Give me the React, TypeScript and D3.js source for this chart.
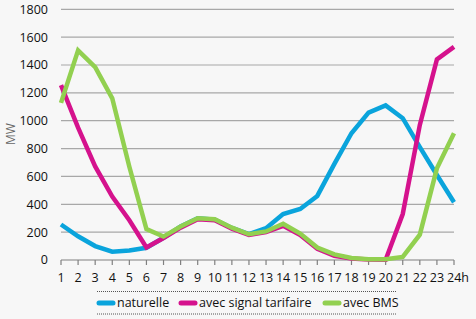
import React from "react";
import * as d3 from "d3";

const hours = Array.from({ length: 24 }, (_, i) => i + 1);
const hourLabels = ["1","2","3","4","5","6","7","8","9","10","11","12","13","14","15","16","17","18","19","20","21","22","23","24h"];
const yTicks = [0, 200, 400, 600, 800, 1000, 1200, 1400, 1600, 1800];

const naturelle = [255, 170, 100, 60, 68, 88, 160, 240, 300, 290, 230, 185, 228, 330, 366, 460, 690, 910, 1058, 1110, 1018, 810, 610, 415];
const signalTarifaire = [1255, 950, 672, 455, 285, 90, 158, 232, 292, 285, 225, 180, 200, 245, 180, 80, 30, 10, 4, 2, 330, 970, 1440, 1530];
const avecBMS = [1128, 1505, 1385, 1160, 670, 222, 168, 240, 300, 292, 232, 185, 205, 260, 190, 90, 40, 15, 5, 5, 22, 182, 658, 910];

const seriesNames = ["naturelle", "avec signal tarifaire", "avec BMS"];
const seriesColors = ["#0aa4dc", "#d5128d", "#92d050"];
const seriesData = [naturelle, signalTarifaire, avecBMS];

const W = 476, H = 319;
const FONT = "'Open Sans', sans-serif";

export default function App() {
  const x = d3.scalePoint<number>().domain(hours).range([61, 454]);
  const y = d3.scaleLinear().domain([0, 1800]).range([260, 9.3]);
  const line = d3.line<number>().x((_, i) => x(hours[i])!).y((v) => y(v));

  const legendItems = [
    { sx: 97, tx: 117 },
    { sx: 179, tx: 199 },
    { sx: 323, tx: 343 },
  ];

  return (
    <svg width={W} height={H} style={{ position: "absolute", left: 0, top: 0, background: "#f7f7f7" }} fontFamily={FONT}>
      <rect x={0} y={0} width={W} height={H} fill="#f7f7f7" />
      {yTicks.filter((t) => t > 0).map((t) => (
        <line key={t} x1={61} x2={454} y1={y(t)} y2={y(t)} stroke="#a8a8a8" strokeWidth={1.2} />
      ))}
      <line x1={61} x2={454} y1={y(0)} y2={y(0)} stroke="#808080" strokeWidth={1.2} />
      {hours.map((h) => (
        <line key={h} x1={x(h)} x2={x(h)} y1={y(0)} y2={y(0) + 5} stroke="#808080" strokeWidth={1.2} />
      ))}
      {yTicks.map((t) => (
        <text key={t} x={48} y={y(t)} dy="0.35em" textAnchor="end" fontSize={12.5} fill="#111">{t}</text>
      ))}
      {hours.map((h, i) => (
        <text key={h} x={x(h)! + (i === 23 ? 4 : 0)} y={282} textAnchor="middle" fontSize={12.5} fill="#111">{hourLabels[i]}</text>
      ))}
      <text transform="translate(15,134) rotate(-90)" textAnchor="middle" fontSize={12} fill="#666">MW</text>
      {seriesData.map((d, i) => (
        <path key={i} d={line(d) || ""} fill="none" stroke={seriesColors[i]} strokeWidth={4.5} strokeLinejoin="miter" />
      ))}
      <line x1={97} x2={397} y1={291.5} y2={291.5} stroke="#555" strokeWidth={1} strokeDasharray="1,1" />
      <line x1={97} x2={397} y1={314} y2={314} stroke="#555" strokeWidth={1} strokeDasharray="1,1" />
      {seriesNames.map((n, i) => (
        <g key={n}>
          <line x1={legendItems[i].sx + 2} x2={legendItems[i].sx + 16} y1={303} y2={303} stroke={seriesColors[i]} strokeWidth={5} strokeLinecap="round" />
          <text x={legendItems[i].tx} y={303} dy="0.35em" fontSize={12.5} fill="#111">{n}</text>
        </g>
      ))}
    </svg>
  );
}
